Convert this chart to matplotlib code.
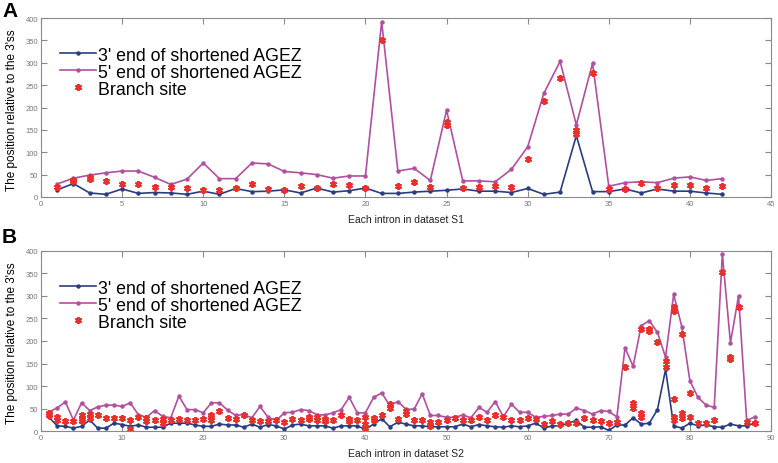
import numpy as np
import matplotlib
matplotlib.use('Agg')
import matplotlib.pyplot as plt

plt.rcParams['font.family'] = ['Liberation Sans', 'DejaVu Sans']

# ---- dataset S1 (panel A) ----
s1_end3 = [16, 30, 9, 6, 18, 8, 10, 9, 6, 13, 6, 19, 12, 13, 16, 9, 20, 11, 14, 20,
           8, 8, 11, 13, 15, 18, 13, 13, 10, 19, 6, 11, 137, 12, 12, 18, 9, 18, 13, 13,
           9, 6]
s1_end5 = [29, 42, 49, 54, 58, 58, 44, 28, 40, 76, 41, 41, 76, 74, 57, 54, 50, 42, 47, 47,
           392, 58, 64, 37, 194, 36, 36, 34, 62, 112, 232, 303, 161, 299, 24, 32, 34, 32, 42, 45,
           37, 41]
s1_branch_x = [1, 2, 2, 3, 3, 4, 5, 6, 7, 8, 9, 10, 11, 12, 13, 14, 15, 16, 17, 18,
               19, 20, 21, 22, 23, 24, 25, 25, 26, 27, 28, 29, 30, 31, 32, 33, 33, 34, 35, 36,
               37, 38, 39, 40, 41, 42]
s1_branch_y = [23, 38, 35, 40, 44, 36, 30, 30, 22, 22, 21, 16, 16, 20, 30, 17, 16, 24, 20, 28,
               27, 20, 351, 24, 33, 22, 161, 167, 20, 22, 24, 22, 85, 214, 267, 150, 140, 277, 18, 18,
               31, 21, 27, 27, 20, 25]

# ---- dataset S2 (panel B) ----
s2_end3 = [31, 12, 11, 7, 11, 25, 7, 7, 18, 15, 11, 14, 9, 9, 9, 18, 18, 18, 14, 11,
           11, 16, 14, 14, 9, 16, 9, 15, 12, 5, 14, 16, 12, 12, 12, 7, 12, 12, 12, 4,
           16, 28, 10, 20, 16, 12, 12, 10, 10, 10, 10, 16, 10, 15, 12, 10, 9, 12, 10, 12,
           18, 7, 12, 12, 18, 24, 9, 9, 10, 2, 14, 14, 30, 16, 18, 48, 137, 12, 7, 18,
           12, 14, 10, 9, 16, 12, 12, 18]
s2_end5 = [43, 52, 65, 25, 63, 46, 54, 58, 58, 55, 63, 37, 31, 46, 33, 30, 78, 48, 48, 41,
           63, 63, 47, 35, 37, 30, 55, 31, 24, 41, 42, 48, 46, 37, 36, 41, 48, 75, 41, 41,
           75, 85, 57, 66, 49, 49, 83, 35, 35, 31, 31, 36, 30, 53, 42, 66, 32, 60, 42, 42,
           31, 33, 35, 38, 38, 51, 46, 38, 46, 44, 32, 185, 144, 234, 245, 219, 164, 303, 232, 112,
           75, 58, 53, 393, 196, 300, 24, 32]
s2_branch_x = [1, 1, 2, 2, 3, 4, 5, 5, 5, 6, 6, 7, 8, 9, 10, 11, 11, 12, 13, 13,
               14, 15, 15, 16, 17, 18, 19, 20, 21, 21, 21, 22, 23, 24, 25, 26, 27, 28, 29, 30,
               31, 32, 33, 33, 34, 34, 35, 35, 36, 37, 38, 38, 39, 40, 40, 40, 41, 41, 42, 43,
               43, 44, 45, 45, 46, 47, 48, 48, 49, 50, 51, 52, 53, 54, 55, 56, 57, 58, 59, 60,
               61, 62, 63, 64, 65, 66, 67, 68, 69, 70, 71, 72, 73, 73, 74, 74, 74, 75, 75, 76,
               77, 77, 78, 78, 78, 78, 78, 79, 79, 79, 80, 80, 81, 82, 83, 84, 85, 85, 86, 87,
               88]
s2_branch_y = [37, 40, 32, 25, 22, 22, 35, 27, 22, 38, 30, 37, 30, 30, 30, 24, 5, 31, 30, 22,
               24, 27, 18, 24, 27, 24, 25, 27, 37, 31, 25, 46, 30, 27, 35, 24, 22, 22, 24, 21,
               27, 25, 32, 27, 31, 24, 27, 22, 26, 35, 27, 22, 24, 31, 16, 7, 30, 24, 37, 61,
               52, 27, 44, 38, 25, 24, 20, 12, 21, 24, 29, 24, 24, 31, 24, 35, 31, 24, 25, 30,
               27, 16, 22, 16, 18, 18, 29, 24, 22, 18, 21, 142, 63, 52, 227, 40, 31, 227, 223, 197,
               155, 142, 275, 267, 72, 32, 25, 216, 40, 30, 85, 31, 18, 18, 25, 352, 165, 160, 276, 20,
               18]

blue = '#2b3d80'
purple = '#b0509f'
red = '#e8302c'
grey = '#8a8a8a'


def draw_panel(ax, end3, end5, bx, by, xmax, xstep, xlabel):
    x = np.arange(1, len(end3) + 1)
    l1, = ax.plot(x, end3, color=blue, lw=1.2, marker='o', ms=2.2,
                  label="3' end of shortened AGEZ")
    l2, = ax.plot(x, end5, color=purple, lw=1.2, marker='o', ms=2.2,
                  label="5' end of shortened AGEZ")
    # asterisk marker, like the MATLAB '*'
    l3, = ax.plot(bx, by, ls='none', marker=(6, 2, 0), ms=5, mew=1.4, color=red,
                  label='Branch site')
    ax.set_xlim(0, xmax)
    ax.set_ylim(0, 400)
    ax.set_xticks(np.arange(0, xmax + 1, xstep))
    ax.set_yticks(np.arange(0, 401, 50))
    ax.tick_params(direction='in', length=4, width=0.8, colors=grey,
                   labelsize=5.5, labelcolor='#777777', top=True, right=True, pad=2)
    for s in ax.spines.values():
        s.set_color(grey)
        s.set_linewidth(0.8)
    ax.set_xlabel(xlabel, fontsize=7.5, labelpad=5, color='#222222')
    ax.legend(handles=[l1, l2, l3], loc='upper left', bbox_to_anchor=(0.026, 0.84),
              frameon=False, fontsize=12.8, handlelength=2.0, handletextpad=0.15,
              labelspacing=0.0, borderpad=0, borderaxespad=0)


fig = plt.figure(figsize=(7.78, 4.64), dpi=100)
axA = fig.add_axes([41 / 778, 1 - 198 / 464, 730 / 778, 179 / 464])
axB = fig.add_axes([41 / 778, 1 - 432.3 / 464, 730 / 778, 180.6 / 464])

draw_panel(axA, s1_end3, s1_end5, s1_branch_x, s1_branch_y, 45, 5, 'Each intron in dataset S1')
draw_panel(axB, s2_end3, s2_end5, s2_branch_x, s2_branch_y, 90, 10, 'Each intron in dataset S2')

fig.text(12 / 778, 1 - 110 / 464, "The position relative to the 3'ss", rotation=90,
         ha='center', va='center', fontsize=8.5)
fig.text(12 / 778, 1 - 343 / 464, "The position relative to the 3'ss", rotation=90,
         ha='center', va='center', fontsize=8.5)
fig.text(2 / 778, 1 - 2 / 464, 'A', fontsize=15, fontweight='bold', ha='left', va='top')
fig.text(2 / 778, 1 - 228 / 464, 'B', fontsize=15, fontweight='bold', ha='left', va='top')

fig.savefig('out.png', dpi=100)
